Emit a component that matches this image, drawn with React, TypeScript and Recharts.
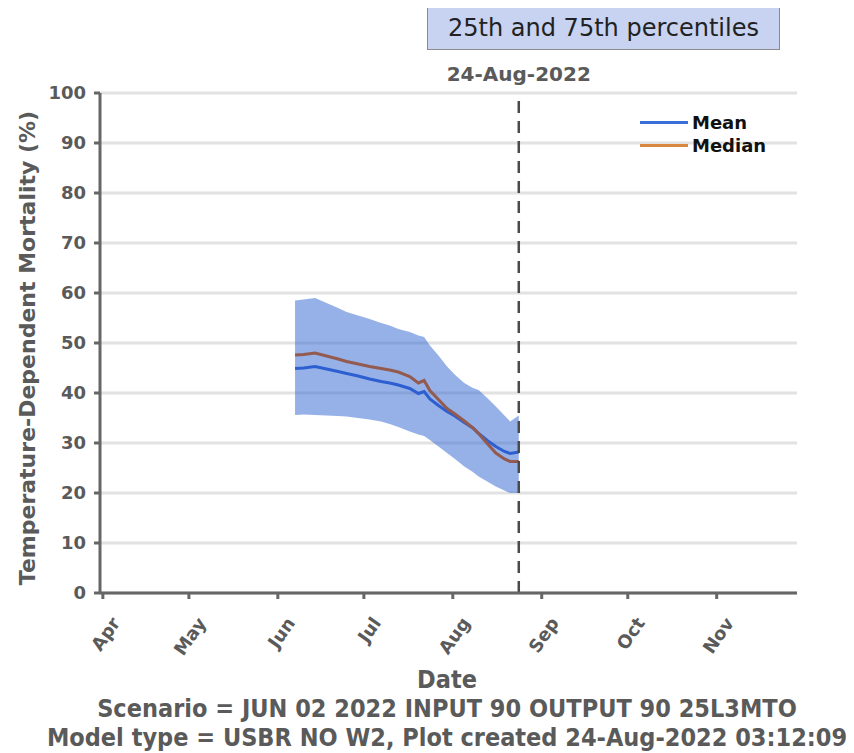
import React from "react";
import {
  ComposedChart,
  Line,
  Area,
  XAxis,
  YAxis,
  CartesianGrid,
  ReferenceLine
} from "recharts";

// days counted from 1 April 2022
const days = [67, 70, 74, 78, 82, 85, 89, 93, 97, 100, 103, 107, 110, 112, 114, 117, 120, 123, 126, 129, 131, 134, 137, 140, 142, 145];
const p75 = [58.5, 58.7, 59.0, 58.0, 57.0, 56.2, 55.5, 54.8, 54.0, 53.5, 52.8, 52.2, 51.5, 51.2, 49.5, 47.5, 45.3, 43.5, 42.0, 41.0, 40.6, 39.0, 37.3, 35.5, 34.3, 35.5];
const p25 = [35.6, 35.7, 35.6, 35.5, 35.4, 35.3, 35.0, 34.7, 34.3, 33.8, 33.2, 32.3, 31.7, 31.4, 30.6, 29.3, 28.0, 26.7, 25.3, 24.2, 23.3, 22.3, 21.3, 20.5, 20.0, 20.0];
const meanVals = [44.9, 45.0, 45.3, 44.8, 44.3, 43.9, 43.4, 42.8, 42.3, 42.0, 41.6, 40.9, 39.9, 40.3, 38.8, 37.5, 36.3, 35.3, 34.1, 33.0, 31.9, 30.5, 29.3, 28.3, 27.9, 28.2];
const medianVals = [47.6, 47.7, 48.0, 47.4, 46.8, 46.3, 45.8, 45.3, 44.9, 44.6, 44.2, 43.3, 42.0, 42.5, 40.5, 38.7, 36.9, 35.7, 34.4, 33.0, 31.9, 29.9, 28.0, 26.8, 26.3, 26.3];

const monthTicks = [0, 30, 61, 91, 122, 153, 183, 214];
const monthNames = ["Apr", "May", "Jun", "Jul", "Aug", "Sep", "Oct", "Nov"];
const yTicks = [0, 10, 20, 30, 40, 50, 60, 70, 80, 90, 100];
const todayDay = 145;

const data = days.map((d, i) => ({
  day: d,
  band: [p25[i], p75[i]],
  mean: meanVals[i],
  median: medianVals[i]
}));

const FONT = "'DejaVu Sans', sans-serif";
const GRAY = "#5a5a5a";

const MonthTick = (props: any) => {
  const { x, y, payload } = props;
  const i = monthTicks.indexOf(payload.value);
  const tx = x + 18;
  const ty = y + 22;
  return (
    <text
      x={tx}
      y={ty}
      transform={`rotate(-55 ${tx} ${ty})`}
      textAnchor="end"
      fontFamily={FONT}
      fontWeight="bold"
      fontSize={18}
      fill={GRAY}
    >
      {monthNames[i]}
    </text>
  );
};

export default function App() {
  return (
    <div style={{ position: "relative", width: 846, height: 745, fontFamily: FONT }}>
      <ComposedChart
        width={846}
        height={745}
        data={data}
        margin={{ top: 85, right: 57, bottom: 70, left: 0 }}
      >
        <CartesianGrid vertical={false} stroke="#e2e2e2" strokeWidth={3} />
        <XAxis
          dataKey="day"
          type="number"
          domain={[-1, 242]}
          ticks={monthTicks}
          tick={<MonthTick />}
          height={90}
          stroke="#666"
          strokeWidth={3}
          tickSize={6}
          interval={0}
        />
        <YAxis
          type="number"
          domain={[0, 100]}
          ticks={yTicks}
          width={92}
          stroke="#666"
          strokeWidth={3}
          tickSize={6}
          tickMargin={8}
          tick={{ fill: GRAY, fontFamily: FONT, fontWeight: "bold", fontSize: 18 }}
          interval={0}
        />
        <Area
          dataKey="band"
          fill="#2b64d0"
          fillOpacity={0.5}
          stroke="none"
          isAnimationActive={false}
        />
        <Line
          dataKey="mean"
          stroke="#2d5fd0"
          strokeWidth={3}
          dot={false}
          isAnimationActive={false}
        />
        <Line
          dataKey="median"
          stroke="#935a50"
          strokeWidth={3}
          dot={false}
          isAnimationActive={false}
        />
        <ReferenceLine
          x={todayDay}
          stroke="#4a4a4a"
          strokeWidth={2.5}
          strokeDasharray="12 8"
          label={{
            value: "24-Aug-2022",
            position: "top",
            offset: 12,
            fill: GRAY,
            fontFamily: FONT,
            fontWeight: "bold",
            fontSize: 20
          }}
        />
      </ComposedChart>

      {/* title box */}
      <div
        style={{
          position: "absolute",
          left: 419,
          top: -3,
          width: 353,
          height: 45,
          background: "#c7d3f1",
          border: "1px solid #8a8a8a",
          boxSizing: "border-box",
          display: "flex",
          alignItems: "center",
          justifyContent: "center",
          fontSize: 24,
          color: "#222"
        }}
      >
        25th and 75th percentiles
      </div>

      {/* legend */}
      {[
        { name: "Mean", color: "#3a6fd8", y: 115 },
        { name: "Median", color: "#d9863f", y: 138 }
      ].map((e) => (
        <div key={e.name} style={{ position: "absolute", left: 632, top: e.y - 11, display: "flex", alignItems: "center" }}>
          <div style={{ width: 48, height: 3, background: e.color, marginRight: 4 }} />
          <span style={{ fontWeight: "bold", fontSize: 18, color: "#111" }}>{e.name}</span>
        </div>
      ))}

      {/* y axis title */}
      <div
        style={{
          position: "absolute",
          left: 19,
          top: 340,
          transform: "translate(-50%, -50%) rotate(-90deg)",
          whiteSpace: "nowrap",
          fontWeight: "bold",
          fontSize: 22,
          color: GRAY
        }}
      >
        Temperature-Dependent Mortality (%)
      </div>

      {/* footer */}
      <div
        style={{
          position: "absolute",
          left: 0,
          top: 657,
          width: 878,
          textAlign: "center",
          fontWeight: "bold",
          fontSize: 25,
          lineHeight: "29px",
          color: GRAY,
          fontStretch: "condensed"
        }}
      >
        <div>Date</div>
        <div>Scenario = JUN 02 2022 INPUT 90 OUTPUT 90 25L3MTO</div>
        <div>Model type = USBR NO W2, Plot created 24-Aug-2022 03:12:09</div>
      </div>
    </div>
  );
}
